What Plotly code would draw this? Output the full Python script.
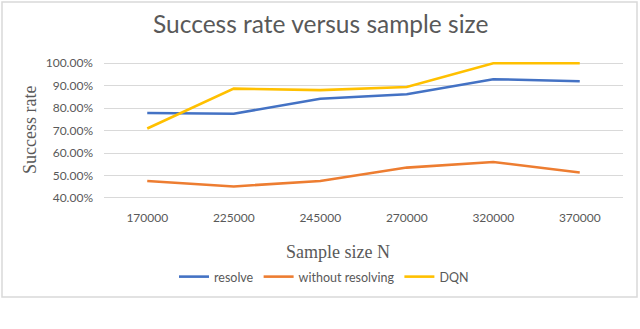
import plotly.graph_objects as go

# data
sample_sizes = ["170000", "225000", "245000", "270000", "320000", "370000"]
resolve = [0.778, 0.775, 0.842, 0.862, 0.929, 0.920]
without_resolving = [0.475, 0.451, 0.475, 0.535, 0.560, 0.513]
dqn = [0.709, 0.887, 0.880, 0.894, 1.000, 1.000]
y_ticks = [0.4, 0.5, 0.6, 0.7, 0.8, 0.9, 1.0]

W, H = 640, 329
L, R, T, B = 104, 17, 61, 130
GRAY = "#595959"


def px_x(p):
    # pixel x -> paper x
    return (p - L) / (W - L - R)


def px_y(p):
    # pixel y -> paper y
    return (H - B - p) / (H - T - B)


fig = go.Figure()

series = [
    ("resolve", resolve, "#4472C4"),
    ("without resolving", without_resolving, "#ED7D31"),
    ("DQN", dqn, "#FFC000"),
]
for name, vals, col in series:
    fig.add_trace(go.Scatter(
        x=sample_sizes, y=vals, name=name, mode="lines",
        line=dict(color=col, width=2.6),
    ))

fig.update_layout(
    width=W, height=H,
    margin=dict(l=L, r=R, t=T, b=B, autoexpand=False),
    paper_bgcolor="white",
    plot_bgcolor="white",
    font=dict(family="Lato", color=GRAY),
    showlegend=True,
    legend=dict(
        orientation="h", x=px_x(174), xanchor="left",
        y=px_y(277), yanchor="middle",
        font=dict(family="Lato", size=12.5, color=GRAY),
        itemwidth=30, tracegroupgap=0,
    ),
    xaxis=dict(
        type="category", range=[-0.5, 5.5], automargin=False,
        showgrid=False, zeroline=False, showline=False,
        ticks="", tickfont=dict(family="Lato", size=12, color=GRAY),
        ticklabelstandoff=10,
    ),
    yaxis=dict(
        range=[0.395, 1.01], tickvals=y_ticks, tickformat=".2%",
        automargin=False,
        showgrid=True, gridcolor="#D9D9D9", gridwidth=1, zeroline=False,
        showline=False, ticks="", ticklabelstandoff=10,
        tickfont=dict(family="Lato", size=12, color=GRAY),
    ),
    shapes=[dict(
        type="rect", xref="paper", yref="paper",
        x0=px_x(2), x1=px_x(637), y0=px_y(297), y1=px_y(2),
        line=dict(color="#D9D9D9", width=1.5), layer="below",
    )],
    annotations=[
        dict(text="Success rate versus sample size", xref="paper", yref="paper",
             x=px_x(320), y=px_y(24), xanchor="center", yanchor="middle",
             showarrow=False, font=dict(family="Lato", size=24.5, color=GRAY)),
        dict(text="Sample size N", xref="paper", yref="paper",
             x=px_x(338), y=px_y(252), xanchor="center", yanchor="middle",
             showarrow=False,
             font=dict(family="Liberation Serif", size=18, color=GRAY)),
        dict(text="Success rate", xref="paper", yref="paper",
             x=px_x(30), y=px_y(130), xanchor="center", yanchor="middle",
             textangle=-90, showarrow=False,
             font=dict(family="Liberation Serif", size=18, color=GRAY)),
    ],
)

# drop the browser's default body margin so the figure sits at the page corner
fig.write_html("out.html", config={"displayModeBar": False},
               post_script="document.body.style.margin='0';")
